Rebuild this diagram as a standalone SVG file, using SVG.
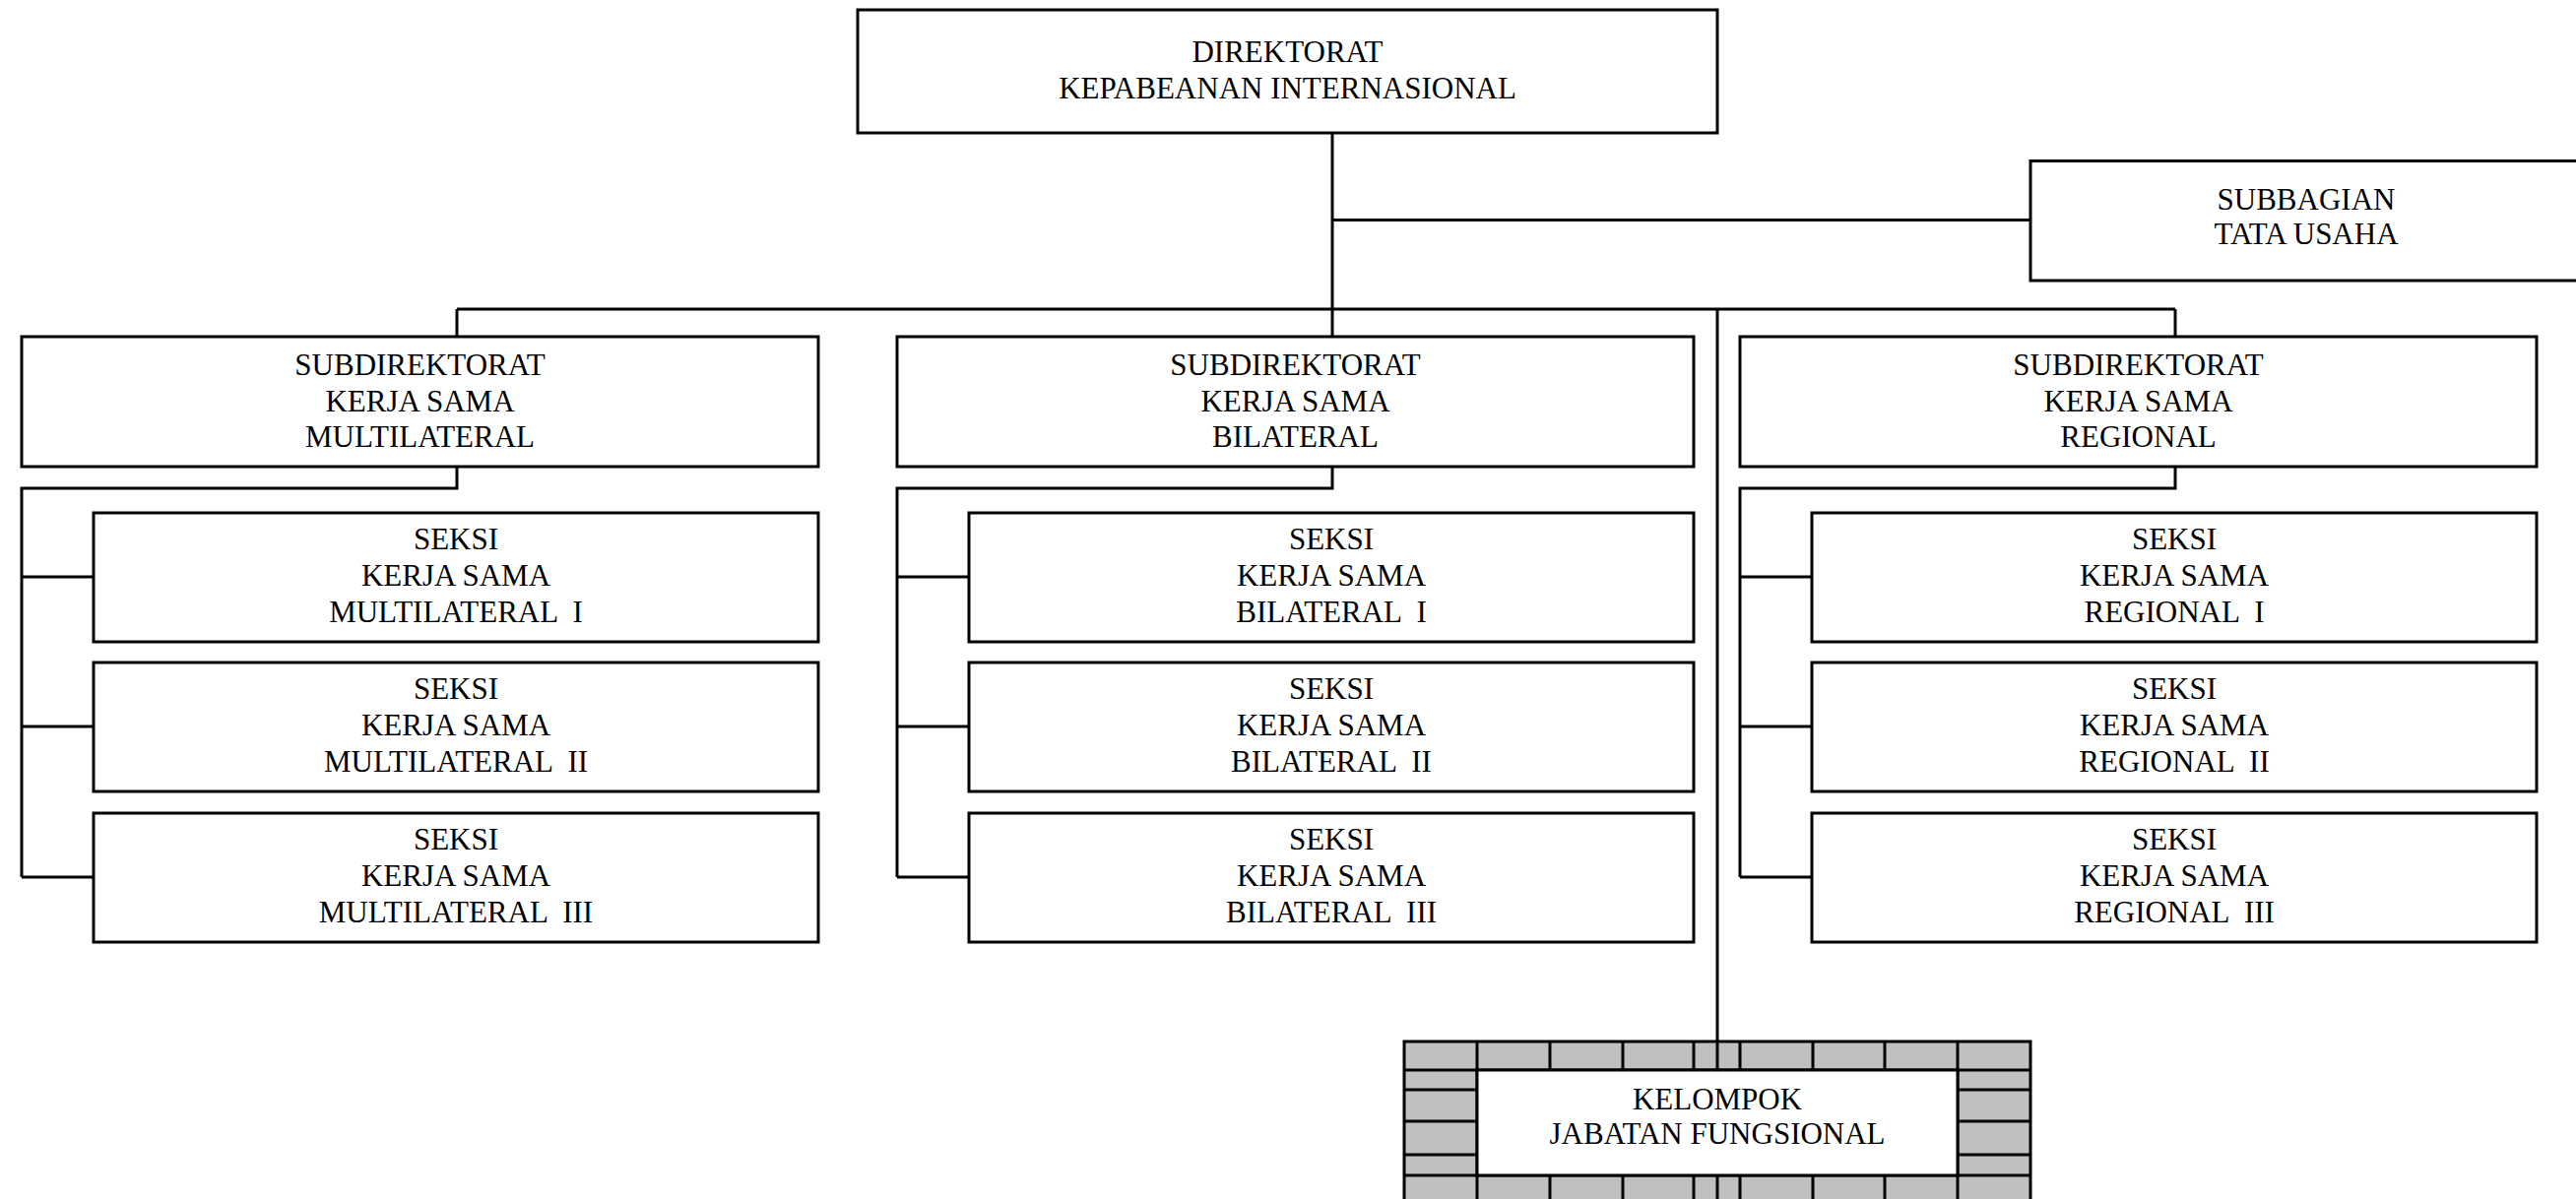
<svg xmlns="http://www.w3.org/2000/svg" width="2616" height="1218" viewBox="0 0 2616 1218">
<style>
.box{fill:#fff;stroke:#000;stroke-width:3}
.tile{fill:#c0c0c0;stroke:#000;stroke-width:3}
.ln{fill:none;stroke:#000;stroke-width:3}
text{font-family:"Liberation Serif","Times New Roman",serif;font-size:31px;fill:#000;text-anchor:middle;white-space:pre}
</style>
<rect width="2616" height="1218" fill="#fff"/>
<g id="connectors">
<path class="ln" d="M1353,135 V342 M464,314 H2209 M464,314 V342 M2209,314 V342 M1353,223.5 H2062 M1744,314 V1058"/>
<path class="ln" d="M464,474 V496 H22 V891 M22,586 H95 M22,738 H95 M22,891 H95"/>
<path class="ln" d="M1353,474 V496 H911 V891 M911,586 H984 M911,738 H984 M911,891 H984"/>
<path class="ln" d="M2209,474 V496 H1767 V891 M1767,586 H1840 M1767,738 H1840 M1767,891 H1840"/>
</g>
<g id="direktorat">
<rect class="box" x="871" y="10" width="873" height="125"/>
<text x="1307.5" y="63">DIREKTORAT</text>
<text x="1307.5" y="99.5">KEPABEANAN INTERNASIONAL</text>
</g>
<g id="subbagian">
<rect class="box" x="2062" y="163.5" width="562" height="121.5"/>
<text x="2342" y="213">SUBBAGIAN</text>
<text x="2342" y="248">TATA USAHA</text>
</g>
<g id="sub-multilateral">
<rect class="box" x="22" y="342" width="809" height="132"/>
<text x="426.5" y="381">SUBDIREKTORAT</text>
<text x="426.5" y="417.5">KERJA SAMA</text>
<text x="426.5" y="454">MULTILATERAL</text>
</g>
<g id="sub-bilateral">
<rect class="box" x="911" y="342" width="809" height="132"/>
<text x="1315.5" y="381">SUBDIREKTORAT</text>
<text x="1315.5" y="417.5">KERJA SAMA</text>
<text x="1315.5" y="454">BILATERAL</text>
</g>
<g id="sub-regional">
<rect class="box" x="1767" y="342" width="809" height="132"/>
<text x="2171.5" y="381">SUBDIREKTORAT</text>
<text x="2171.5" y="417.5">KERJA SAMA</text>
<text x="2171.5" y="454">REGIONAL</text>
</g>
<g id="seksi-multi-1">
<rect class="box" x="95" y="521" width="736" height="131"/>
<text x="463" y="558">SEKSI</text>
<text x="463" y="595">KERJA SAMA</text>
<text x="463" y="631.5">MULTILATERAL  I</text>
</g>
<g id="seksi-multi-2">
<rect class="box" x="95" y="673" width="736" height="131"/>
<text x="463" y="710">SEKSI</text>
<text x="463" y="747">KERJA SAMA</text>
<text x="463" y="783.5">MULTILATERAL  II</text>
</g>
<g id="seksi-multi-3">
<rect class="box" x="95" y="826" width="736" height="131"/>
<text x="463" y="863">SEKSI</text>
<text x="463" y="900">KERJA SAMA</text>
<text x="463" y="936.5">MULTILATERAL  III</text>
</g>
<g id="seksi-bi-1">
<rect class="box" x="984" y="521" width="736" height="131"/>
<text x="1352" y="558">SEKSI</text>
<text x="1352" y="595">KERJA SAMA</text>
<text x="1352" y="631.5">BILATERAL  I</text>
</g>
<g id="seksi-bi-2">
<rect class="box" x="984" y="673" width="736" height="131"/>
<text x="1352" y="710">SEKSI</text>
<text x="1352" y="747">KERJA SAMA</text>
<text x="1352" y="783.5">BILATERAL  II</text>
</g>
<g id="seksi-bi-3">
<rect class="box" x="984" y="826" width="736" height="131"/>
<text x="1352" y="863">SEKSI</text>
<text x="1352" y="900">KERJA SAMA</text>
<text x="1352" y="936.5">BILATERAL  III</text>
</g>
<g id="seksi-reg-1">
<rect class="box" x="1840" y="521" width="736" height="131"/>
<text x="2208" y="558">SEKSI</text>
<text x="2208" y="595">KERJA SAMA</text>
<text x="2208" y="631.5">REGIONAL  I</text>
</g>
<g id="seksi-reg-2">
<rect class="box" x="1840" y="673" width="736" height="131"/>
<text x="2208" y="710">SEKSI</text>
<text x="2208" y="747">KERJA SAMA</text>
<text x="2208" y="783.5">REGIONAL  II</text>
</g>
<g id="seksi-reg-3">
<rect class="box" x="1840" y="826" width="736" height="131"/>
<text x="2208" y="863">SEKSI</text>
<text x="2208" y="900">KERJA SAMA</text>
<text x="2208" y="936.5">REGIONAL  III</text>
</g>
<g id="kelompok">
<rect class="tile" x="1426" y="1058" width="636" height="180"/>
<path class="ln" d="M1426,1087 H2062 M1426,1194 H2062 M1500,1058 V1238 M1574,1058 V1087 M1648,1058 V1087 M1720,1058 V1087 M1744,1058 V1087 M1767,1058 V1087 M1841,1058 V1087 M1914,1058 V1087 M1988,1058 V1238 M1574,1194 V1238 M1648,1194 V1238 M1720,1194 V1238 M1744,1194 V1238 M1767,1194 V1238 M1841,1194 V1238 M1914,1194 V1238 M1426,1107 H1500 M1426,1139 H1500 M1426,1173 H1500 M1988,1107 H2062 M1988,1139 H2062 M1988,1173 H2062"/>
<rect class="box" x="1500" y="1087" width="488" height="107"/>
<text x="1744" y="1127">KELOMPOK</text>
<text x="1744" y="1162">JABATAN FUNGSIONAL</text>
</g>
</svg>
